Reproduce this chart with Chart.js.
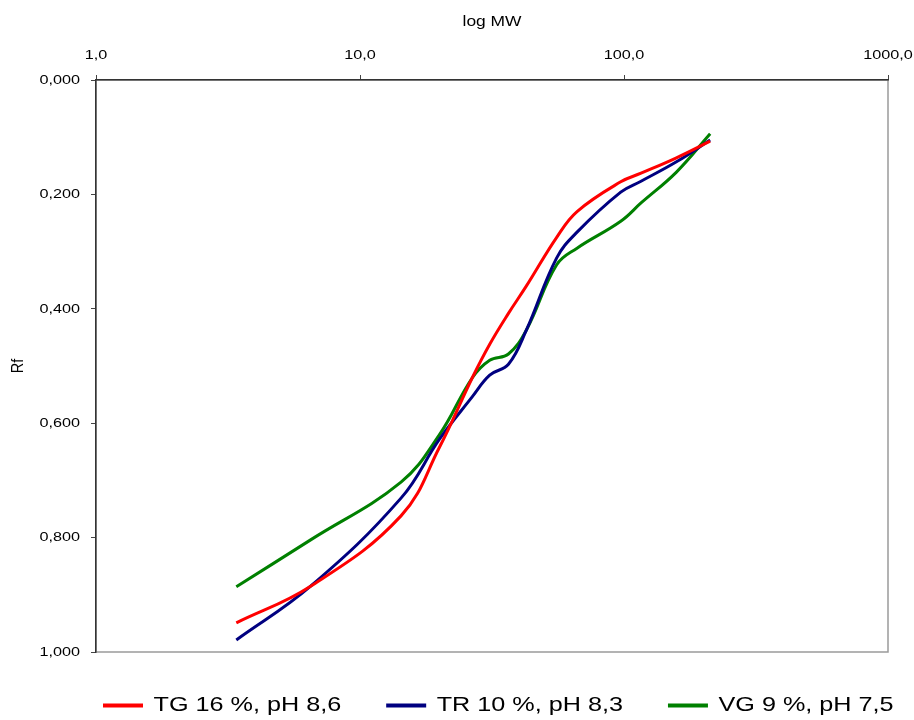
<!DOCTYPE html>
<html><head><meta charset="utf-8">
<script src="https://cdn.jsdelivr.net/npm/chart.js@4/dist/chart.umd.min.js"></script>
<style>html,body{margin:0;padding:0;background:#fff}#wrap{width:914px;height:720px}</style>
</head><body><div id="wrap"><canvas id="c" width="914" height="720"></canvas></div>
<script>
const molecularWeights = [3.4, 6.5, 14.3, 20.0, 26.6, 31.0, 36.5, 42.7, 55.6, 66.4, 97.2, 116, 158, 212];
const seriesNames = ['TG 16 %, pH 8,6', 'TR 10 %, pH 8,3', 'VG 9 %, pH 7,5'];
const rfTG = [0.949, 0.885, 0.762, 0.642, 0.521, 0.462, 0.408, 0.360, 0.275, 0.230, 0.178, 0.163, 0.136, 0.107];
const rfTR = [0.979, 0.885, 0.731, 0.628, 0.554, 0.516, 0.497, 0.437, 0.311, 0.266, 0.196, 0.177, 0.143, 0.105];
const rfVG = [0.886, 0.804, 0.703, 0.620, 0.521, 0.490, 0.479, 0.437, 0.323, 0.294, 0.247, 0.215, 0.161, 0.094];
const xTickValues = [1, 10, 100, 1000];
const xTickLabels = ['1,0', '10,0', '100,0', '1000,0'];
const yTickValues = [0, 0.2, 0.4, 0.6, 0.8, 1.0];
const yTickLabels = ['0,000', '0,200', '0,400', '0,600', '0,800', '1,000'];
const xTitle = 'log MW';
const yTitle = 'Rf';

const seriesValues = [rfTG, rfTR, rfVG];
const seriesColors = ['#ff0000', '#000080', '#008000'];

const FONT = 'Liberation Sans, Arial, sans-serif';
const SX = 1.2;            // text in the reference is drawn horizontally widened
const LEGEND_H = 68;
const LEGEND_PAD = 45;
const LEG_DX = 58;
const LEG_DY = -2;

const canvas = document.getElementById('c');
const ctx = canvas.getContext('2d');
const P = CanvasRenderingContext2D.prototype;
ctx.fillText = function (text, x, y) {
  const m = this.getTransform();
  const dx = m.a * x + m.c * y + m.e, dy = m.b * x + m.d * y + m.f;
  this.save();
  this.setTransform(new DOMMatrix().translate(dx, dy).scale(SX, 1).translate(-dx, -dy).multiply(m));
  P.fillText.call(this, text, x, y);
  this.restore();
};
ctx.measureText = function (text) {
  const r = P.measureText.call(this, text);
  return {
    width: r.width * SX,
    actualBoundingBoxAscent: r.actualBoundingBoxAscent,
    actualBoundingBoxDescent: r.actualBoundingBoxDescent,
    actualBoundingBoxLeft: r.actualBoundingBoxLeft * SX,
    actualBoundingBoxRight: r.actualBoundingBoxRight * SX,
    fontBoundingBoxAscent: r.fontBoundingBoxAscent,
    fontBoundingBoxDescent: r.fontBoundingBoxDescent
  };
};

const frame = {
  id: 'frame',
  beforeDraw(chart) {
    const {ctx, chartArea: a} = chart;
    ctx.save();
    ctx.strokeStyle = '#9a9a9a';
    ctx.lineWidth = 1.5;
    ctx.strokeRect(a.left, a.top, a.right - a.left, a.bottom - a.top);
    ctx.restore();
  }
};

const legendPlacement = {
  id: 'legendPlacement',
  beforeUpdate(chart) {
    const lg = chart.legend;
    if (lg && !lg.__fixed) {
      const fit = lg.fit;
      lg.fit = function () { fit.call(this); this.height = LEGEND_H; };
      lg.__fixed = true;
    }
  },
  afterLayout(chart) {
    const lg = chart.legend;
    if (!lg) return;
    lg.left += LEG_DX; lg.right += LEG_DX;
    lg.top += LEG_DY; lg.bottom += LEG_DY;
  }
};

new Chart(canvas, {
  type: 'line',
  data: {
    datasets: seriesNames.map((name, i) => ({
      label: name,
      data: molecularWeights.map((mw, j) => ({x: mw, y: seriesValues[i][j]})),
      borderColor: seriesColors[i],
      backgroundColor: seriesColors[i],
      borderWidth: 3,
      pointRadius: 0,
      tension: 0.4,
      fill: false
    }))
  },
  options: {
    responsive: false,
    animation: false,
    layout: {padding: 0},
    plugins: {
      legend: {
        position: 'bottom',
        align: 'start',
        labels: {
          boxWidth: 40,
          boxHeight: 4,
          padding: LEGEND_PAD,
          color: '#000',
          font: {family: FONT, size: 21},
          generateLabels: chart => chart.data.datasets.map((d, i) => ({
            text: d.label, fillStyle: d.borderColor, strokeStyle: d.borderColor,
            lineWidth: 0, datasetIndex: i, hidden: false
          }))
        }
      },
      tooltip: {enabled: false}
    },
    scales: {
      x: {
        type: 'logarithmic',
        position: 'top',
        min: 1, max: 1000,
        afterBuildTicks: s => { s.ticks = xTickValues.map(v => ({value: v})); },
        afterFit: s => { s.height = 80; s.paddingLeft = 0; s.paddingRight = 26; },
        ticks: {
          autoSkip: false, maxRotation: 0, padding: 12,
          color: '#000', font: {family: FONT, size: 13.5},
          callback: (v, i) => xTickLabels[i]
        },
        grid: {drawOnChartArea: false, drawTicks: true, tickLength: 5, color: '#444'},
        border: {color: '#333', width: 1.5},
        title: {display: true, text: xTitle, color: '#000', font: {family: FONT, size: 14.5}, padding: {top: 13, bottom: 0}}
      },
      y: {
        type: 'linear',
        reverse: true,
        min: 0, max: 1,
        afterBuildTicks: s => { s.ticks = yTickValues.map(v => ({value: v})); },
        afterFit: s => { s.width = 96; },
        ticks: {
          autoSkip: false, padding: 11,
          color: '#000', font: {family: FONT, size: 13.5},
          callback: (v, i) => yTickLabels[i]
        },
        grid: {drawOnChartArea: false, drawTicks: true, tickLength: 5, color: '#444'},
        border: {color: '#333', width: 1.5},
        title: {display: true, text: yTitle, color: '#000', font: {family: FONT, size: 14.5}, padding: {top: 9, bottom: 0}}
      }
    }
  },
  plugins: [frame, legendPlacement]
});
</script>
</body></html>
